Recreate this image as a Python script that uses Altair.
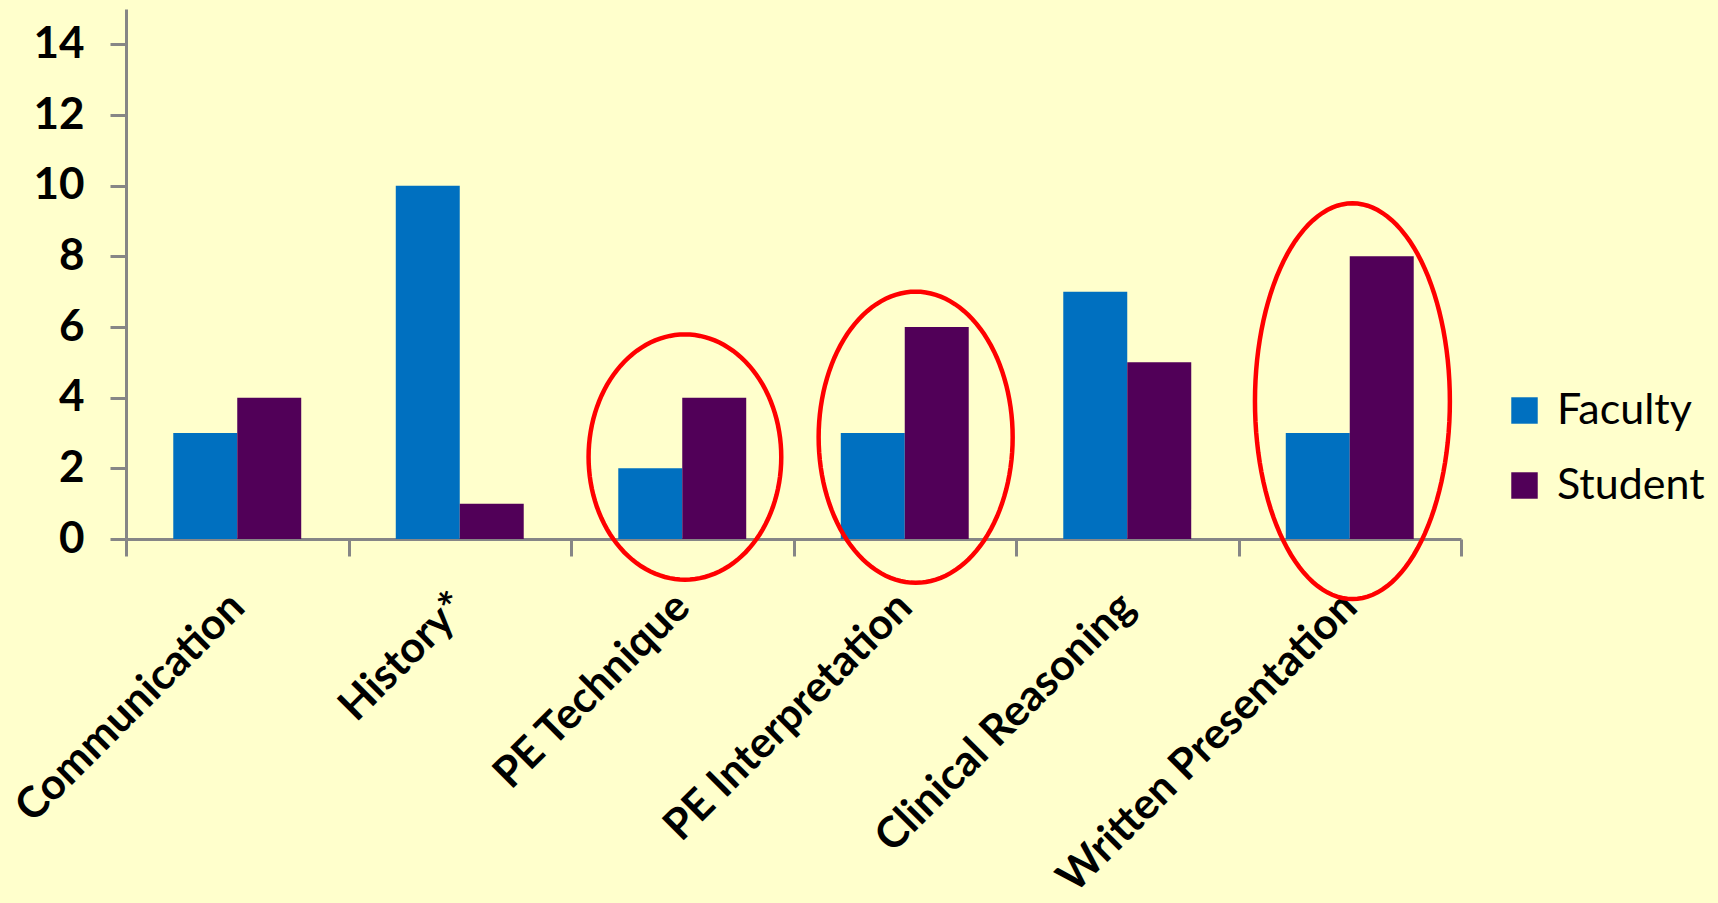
import altair as alt
import pandas as pd
import numpy as np

# ---- data ----
categories = ["Communication", "History*", "PE Technique", "PE Interpretation",
              "Clinical Reasoning", "Written Presentation"]
series = ["Faculty", "Student"]
faculty = [3, 10, 2, 3, 7, 3]
student = [4, 1, 4, 6, 5, 8]
y_ticks = [0, 2, 4, 6, 8, 10, 12, 14]

# red highlight ellipses (in data units: category-index axis 0..6, value axis)
ell_cx = [2.512, 3.549, 5.512]
ell_rx = [0.433, 0.436, 0.438]
ell_cy = [2.32, 2.88, 3.9]
ell_ry = [3.47, 4.12, 5.6]

colors = ["#0070C0", "#510058"]
BG = "#FFFFCC"
AX = "#868686"
W, H = 1335, 530

bars = pd.DataFrame({
    "category": categories * 2,
    "series": [series[0]] * len(categories) + [series[1]] * len(categories),
    "value": faculty + student,
})

rows = []
for i in range(len(ell_cx)):
    for k in range(0, 121):
        t = 2 * np.pi * k / 120
        rows.append({"eid": i, "t": k,
                     "ex": ell_cx[i] + ell_rx[i] * np.cos(t),
                     "ey": ell_cy[i] + ell_ry[i] * np.sin(t)})
ell = pd.DataFrame(rows)

yscale = alt.Scale(domain=[0, 15], nice=False, zero=True)

bar_layer = alt.Chart(bars).mark_bar().encode(
    x=alt.X("category:N", sort=categories,
            scale=alt.Scale(domain=categories, paddingInner=0, paddingOuter=0),
            axis=alt.Axis(title=None, labelAngle=-45, labelAlign="right",
                          labelBaseline="middle", labelPadding=44,
                          labelFont="Lato", labelFontWeight="bold",
                          labelFontSize=43, labelColor="#000000",
                          tickBand="extent", tickSize=17, tickWidth=3,
                          tickColor=AX, domainColor=AX, domainWidth=3,
                          labelLimit=0)),
    xOffset=alt.XOffset("series:N", sort=series,
                        scale=alt.Scale(domain=series, paddingInner=0, paddingOuter=0.739)),
    y=alt.Y("value:Q", scale=yscale,
            axis=alt.Axis(title=None, values=y_ticks, grid=False,
                          labelFont="Lato", labelFontWeight="bold",
                          labelFontSize=44, labelColor="#000000",
                          labelPadding=26, tickSize=16, tickWidth=3,
                          tickColor=AX, domainColor=AX, domainWidth=3)),
    color=alt.Color("series:N", sort=series,
                    scale=alt.Scale(domain=series, range=colors),
                    legend=alt.Legend(title=None, orient="none",
                                      legendX=1377, legendY=380,
                                      symbolType="square", symbolSize=700,
                                      symbolStrokeWidth=0, symbolOpacity=1,
                                      labelFont="Lato", labelFontSize=43,
                                      labelColor="#000000", labelOffset=11,
                                      rowPadding=31, padding=0)),
)

ell_layer = alt.Chart(ell).mark_line(color="#FF0000", strokeWidth=4.5).encode(
    x=alt.X("ex:Q", scale=alt.Scale(domain=[0, 6], nice=False, zero=False), axis=None),
    y=alt.Y("ey:Q", scale=yscale),
    detail="eid:N",
    order="t:Q",
)

chart = alt.layer(bar_layer, ell_layer).resolve_scale(x="independent").properties(
    width=W, height=H,
    background=BG,
    autosize=alt.AutoSizeParams(type="none"),
    padding={"left": 126, "top": 9, "right": 1718 - 126 - W, "bottom": 903 - 9 - H},
).configure_view(stroke=None)

chart.save("out.html", embed_options={"renderer": "svg", "actions": False})
